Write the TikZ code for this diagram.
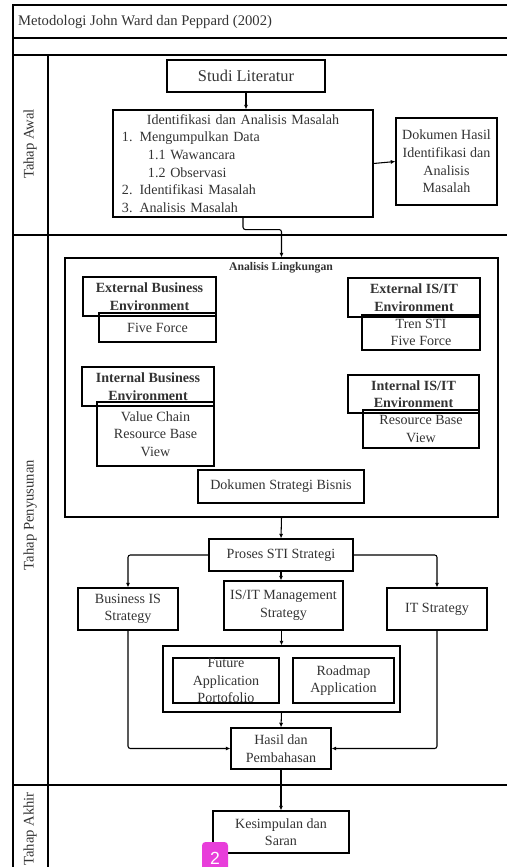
\documentclass[tikz,border=0pt]{standalone}
\usepackage{fontspec}
\setmainfont{Liberation Serif}
\newfontfamily\badgefont{Liberation Sans}
\usetikzlibrary{arrows.meta, positioning}

\definecolor{badge}{RGB}{232,62,218}

\tikzset{
  box/.style={draw, line width=0.9pt, align=center, inner sep=1pt, text=black!80, font=\fontsize{12}{15}\selectfont},
  headbox/.style={box, font=\fontsize{12}{15}\selectfont\bfseries},
  txt/.style={align=center, inner sep=1pt, text=black!80, font=\fontsize{12}{15}\selectfont},
  sz/.style 2 args={minimum width=#1*0.03cm, minimum height=#2*0.03cm},
  lane/.style={rotate=90, text=black!80, font=\fontsize{12.5}{15}\selectfont},
  flow/.style={line width=0.9pt, -{Latex[length=4pt,width=3.5pt]}, rounded corners=2pt},
  frame/.style={line width=1pt},
}

\begin{document}
\begin{tikzpicture}[x=0.03cm, y=-0.03cm]
    \useasboundingbox (0,0) rectangle (507,867);

    % kerangka tabel
    \draw[frame] (507,5) -- (13,5) -- (13,880);
    \draw[frame] (13,38) -- (507,38);
    \draw[frame] (13,55) -- (507,55);
    \draw[frame] (13,235) -- (507,235);
    \draw[frame] (13,785) -- (507,785);
    \draw[frame] (48,55) -- (48,880);

    \node[anchor=west, text=black!80, font=\fontsize{12.5}{15}\selectfont] (judul) at (14,22) {Metodologi John Ward dan Peppard (2002)};
    \node[lane] (awal) at (30,144) {Tahap Awal};
    \node[lane] (penyusunan) at (30,515) {Tahap Penyusunan};
    \node[lane] (akhir) at (30,829) {Tahap Akhir};

    % tahap awal
    \node[box, sz={158}{32}, font=\fontsize{14}{16}\selectfont] (studi) at (246,76) {Studi Literatur};
    \node[box, sz={260}{107}, text width=7.26cm, inner xsep=0.27cm, align=left] (ident) at (243,163.5)
        {\makebox[\linewidth]{Identifikasi dan Analisis Masalah}\\
         1. Mengumpulkan Data\\
         \hspace*{0.78cm}1.1 Wawancara\\
         \hspace*{0.78cm}1.2 Observasi\\
         2. Identifikasi Masalah\\
         3. Analisis Masalah};
    \node[box, sz={101}{87}] (dokhasil) at (446.5,161.5) {Dokumen Hasil\\Identifikasi dan\\Analisis\\Masalah};

    % analisis lingkungan
    \node[box, sz={433}{259}] (analisis) at (281.5,387.5) {};
    \node[txt, font=\fontsize{10}{12}\selectfont\bfseries] (lingkungan) at (281,268) {Analisis Lingkungan};
    \node[headbox, sz={133}{39}] (extbis) at (149.5,296.5) {External Business\\Environment};
    \node[box, sz={117}{29}] (fiveforce) at (157.5,327.5) {Five Force};
    \node[headbox, sz={132}{39}] (extsi) at (414,297.5) {External IS/IT\\Environment};
    \node[box, sz={118}{35}] (tren) at (421,332.5) {Tren STI\\Five Force};
    \node[headbox, sz={132}{39}] (intbis) at (148,386.5) {Internal Business\\Environment};
    \node[box, sz={117}{64}] (valuechain) at (155.5,434) {Value Chain\\Resource Base\\View};
    \node[headbox, sz={131}{38}] (intsi) at (413.5,394) {Internal IS/IT\\Environment};
    \node[box, sz={116}{38}] (rbv) at (421,429) {Resource Base\\View};
    \node[box, sz={166}{33}] (dokstrategi) at (281,486.5) {Dokumen Strategi Bisnis};

    % strategi
    \node[box, sz={144}{32}] (proses) at (281,555) {Proses STI Strategi};
    \node[box, sz={100}{42}] (bisnis) at (128,609) {Business IS\\Strategy};
    \node[box, sz={119}{49}] (manajemen) at (283.5,605.5) {IS/IT Management\\Strategy};
    \node[box, sz={100}{42}] (teknologi) at (437,609) {IT Strategy};
    \node[box, sz={237}{66}] (aplikasi) at (281.5,679) {};
    \node[box, sz={106}{45}] (future) at (226,680.5) {};
    \node[txt] (futuretxt) at (future) {Future\\Application\\Portofolio};
    \node[box, sz={101}{45}] (roadmap) at (343.5,680.5) {Roadmap\\Application};
    \node[box, sz={100}{41}] (hasil) at (281,748.5) {Hasil dan\\Pembahasan};

    % tahap akhir
    \node[box, sz={136}{42}] (kesimpulan) at (281,832) {Kesimpulan dan\\Saran};

    % alur
    \draw[flow] (studi.south) -- (studi.south |- ident.north);
    \draw[flow] (ident.east) -- (dokhasil.west);
    \draw[flow] (ident.south) -- ++(0,12) -| (analisis.north);
    \draw[flow] (analisis.south) -- (proses.north);
    \draw[flow] (proses.west) -| (bisnis.north);
    \draw[flow] (proses.east) -| (teknologi.north);
    \draw[flow] (proses.south) -- (proses.south |- manajemen.north);
    \draw[flow] (manajemen.south -| aplikasi.north) -- (aplikasi.north);
    \draw[flow] (aplikasi.south) -- (hasil.north);
    \draw[flow] (bisnis.south) |- (hasil.west);
    \draw[flow] (teknologi.south) |- (hasil.east);
    \draw[flow] (hasil.south) -- (kesimpulan.north);

    \node[fill=badge, rounded corners=3pt, text=white, inner sep=0pt, sz={26}{32}, font=\badgefont\fontsize{15}{15}\selectfont] (nomor) at (215,858) {2};
\end{tikzpicture}
\end{document}
